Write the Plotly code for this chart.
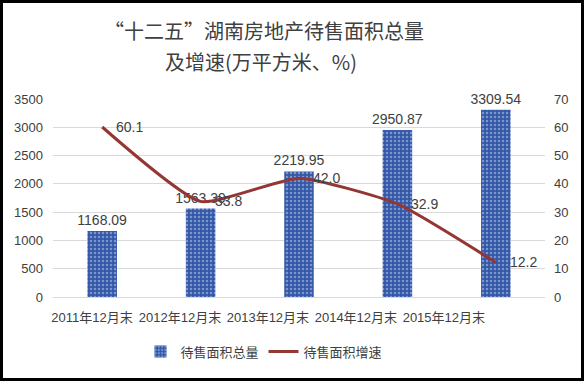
import plotly.graph_objects as go

categories = ["2011年12月末", "2012年12月末", "2013年12月末", "2014年12月末", "2015年12月末"]
total_area = [1168.09, 1563.39, 2219.95, 2950.87, 3309.54]
growth = [60.1, 33.8, 42.0, 32.9, 12.2]
left_ticks = [0, 500, 1000, 1500, 2000, 2500, 3000, 3500]
right_ticks = [0, 10, 20, 30, 40, 50, 60, 70]

FONT = "Liberation Sans, Noto Sans CJK SC"
TXT = "#404040"
idx = list(range(len(categories)))
# the category labels in the reference sit on a slightly narrower pitch than the bars
label_pos = [i * 0.894 - 0.104 for i in idx]

fig = go.Figure()
fig.add_trace(go.Bar(
    x=idx, y=total_area, name="待售面积总量",
    width=0.3,
    marker=dict(color="#3358a8", line=dict(width=0),
                pattern=dict(shape=".", fgcolor="#c8d4ee", size=4, solidity=0.3)),
    text=[f"{v:.2f}" for v in total_area], textposition="outside",
    constraintext="none",
    textfont=dict(size=14, color=TXT, family=FONT), cliponaxis=False,
))
fig.add_trace(go.Scatter(
    x=idx, y=growth, name="待售面积增速", yaxis="y2",
    mode="lines", line=dict(color="#943634", width=3, shape="spline", smoothing=0.5),
    cliponaxis=False,
))
for i, g in zip(idx, growth):
    fig.add_annotation(x=i, y=g, yref="y2", text=f"{g:.1f}", showarrow=False,
                       xanchor="left", xshift=12, yshift=0,
                       font=dict(size=14, color=TXT, family=FONT))

fig.add_annotation(text="“十二五”湖南房地产待售面积总量", xref="paper", yref="paper",
                   x=(264 - 53) / 492, y=(297 - 30) / 198, showarrow=False,
                   xanchor="center", yanchor="middle",
                   font=dict(size=20, color=TXT, family="Noto Sans CJK SC"))
fig.add_annotation(text="及增速(万平方米、%)", xref="paper", yref="paper",
                   x=(261 - 53) / 492, y=(297 - 61) / 198, showarrow=False,
                   xanchor="center", yanchor="middle",
                   font=dict(size=20, color=TXT, family="Noto Sans CJK SC"))

fig.update_layout(
    width=584, height=381,
    margin=dict(l=53, r=39, t=99, b=84, autoexpand=False),
    paper_bgcolor="white", plot_bgcolor="white",
    font=dict(family=FONT, color=TXT, size=13),
    xaxis=dict(range=[-0.5, 4.5], showgrid=False, showline=True, linecolor="#d9d9d9",
               ticks="", tickvals=label_pos, ticktext=categories, zeroline=False,
               tickfont=dict(size=13, color=TXT), ticklabelstandoff=8),
    yaxis=dict(range=[0, 3500], tickvals=left_ticks, showgrid=True, gridcolor="#d9d9d9",
               zeroline=False, tickfont=dict(size=13, color=TXT), ticklabelstandoff=9),
    yaxis2=dict(range=[0, 70], tickvals=right_ticks, overlaying="y", side="right",
                showgrid=False, zeroline=False, tickfont=dict(size=13, color=TXT),
                ticklabelstandoff=8),
    legend=dict(orientation="h", x=(264 - 53) / 492, xanchor="center", y=-0.2, yanchor="top",
                font=dict(size=13, color=TXT, family="Noto Sans CJK SC")),
    bargap=0.7,
    shapes=[dict(type="rect", xref="paper", yref="paper",
                 x0=-51.5/492, x1=1+37.5/492,
                 y0=-82.5/198, y1=1+97.5/198, line=dict(color="black", width=3))],
)

fig.write_html("out.html", config={"displayModeBar": False},
               post_script="document.body.style.margin='0';document.body.style.overflow='hidden';")
